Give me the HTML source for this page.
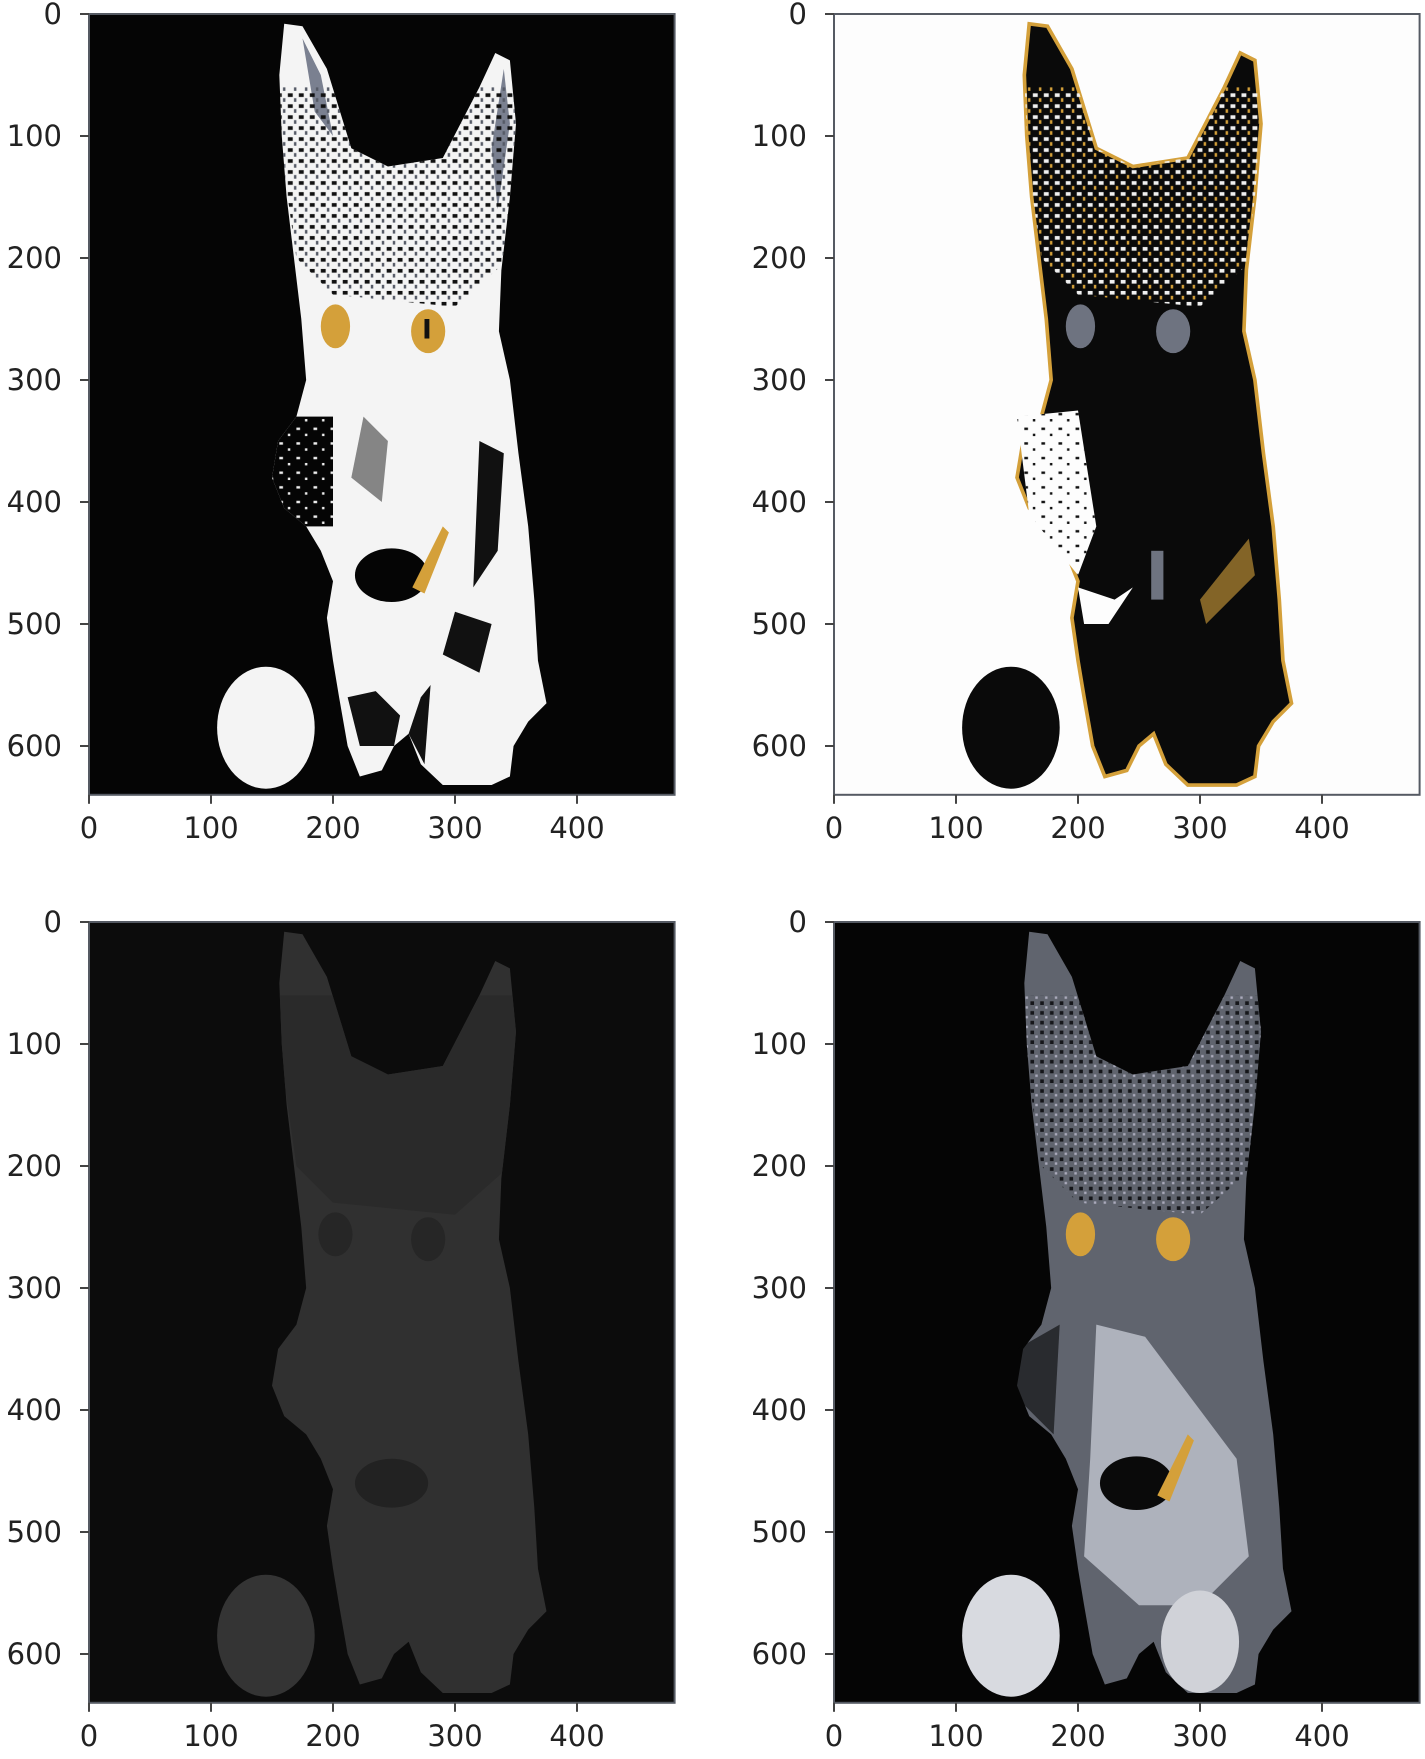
<!DOCTYPE html>
<html><head><meta charset="utf-8"><style>
body{margin:0;background:#fff;width:1425px;height:1759px;overflow:hidden}
svg{display:block}
text{font-family:"DejaVu Sans","Liberation Sans",sans-serif;font-size:29px;fill:#222}
</style></head><body>
<svg id="fig" width="1425" height="1759" viewBox="0 0 1425 1759">
<defs>
<path id="catBody" d="M160,8 L175,10 L195,45 L215,110 L245,125 L290,118 L320,60 L333,32 L345,38 L350,90 L345,150 L338,210 L336,260 L345,300 L352,360 L360,420 L365,480 L368,530 L375,565 L360,580 L348,600 L345,625 L330,632 L290,632 L272,615 L262,590 L250,600 L240,620 L222,625 L212,600 L205,560 L200,530 L195,495 L200,465 L190,440 L178,420 L160,405 L150,380 L155,350 L170,330 L178,300 L174,250 L168,200 L162,150 L158,100 L156,50 Z"/>
<clipPath id="catClip"><use href="#catBody"/></clipPath>
<path id="headZone" d="M150,60 L360,60 L345,200 L300,240 L250,235 L200,230 L170,200 Z"/>
<ellipse id="pawL" cx="145" cy="585" rx="40" ry="50"/>
<ellipse id="pawR" cx="300" cy="590" rx="32" ry="42"/>
<pattern id="dotsDark" width="9" height="9" patternUnits="userSpaceOnUse">
<rect x="1" y="2" width="4" height="3" fill="#111"/><rect x="6" y="6" width="2" height="3" fill="#555a66"/>
</pattern>
<pattern id="dotsLight" width="9" height="9" patternUnits="userSpaceOnUse">
<rect x="1" y="2" width="4" height="3" fill="#f0f0f0"/><rect x="6" y="6" width="2" height="3" fill="#d4a03a"/>
</pattern>
<pattern id="dotsGrey" width="8" height="8" patternUnits="userSpaceOnUse">
<rect x="1" y="1" width="3" height="3" fill="#15161a"/><rect x="5" y="5" width="2" height="2" fill="#aab"/>
</pattern>
<pattern id="dotsSparse" width="14" height="12" patternUnits="userSpaceOnUse">
<rect x="2" y="3" width="3" height="2" fill="#eee"/><rect x="9" y="8" width="2" height="2" fill="#eee"/>
</pattern>
<pattern id="dotsSparseDark" width="14" height="12" patternUnits="userSpaceOnUse">
<rect x="2" y="3" width="3" height="2" fill="#111"/><rect x="9" y="8" width="2" height="2" fill="#111"/>
</pattern>
</defs>

<!-- Panel 1 -->
<g transform="translate(89,14) scale(1.22)">
<rect x="0" y="0" width="480" height="640" fill="#050505"/>
<use href="#catBody" fill="#f4f4f4"/>
<use href="#pawL" fill="#f4f4f4"/>
<g clip-path="url(#catClip)">
<path d="M175,20 L190,50 L200,100 L185,80 Z M340,45 L345,90 L335,160 L330,110 Z" fill="#7a8090"/>
<use href="#headZone" fill="url(#dotsDark)"/>
<rect x="140" y="330" width="60" height="90" fill="#050505"/>
<rect x="140" y="330" width="60" height="90" fill="url(#dotsSparse)"/>
</g>
<path d="M225,330 L245,350 L240,400 L215,380 Z" fill="#555" opacity="0.7"/>
<path d="M320,350 L340,360 L335,440 L315,470 Z M300,490 L330,500 L320,540 L290,525 Z" fill="#111"/>
<path d="M212,560 L235,555 L255,575 L250,600 L222,600 Z" fill="#111"/>
<path d="M262,590 L272,560 L280,550 L275,615 Z" fill="#111"/>
<ellipse cx="248" cy="460" rx="30" ry="22" fill="#050505"/>
<path d="M265,470 L290,420 L295,425 L275,475 Z" fill="#d4a03a"/>
<ellipse cx="202" cy="256" rx="12" ry="18" fill="#d4a03a"/>
<ellipse cx="278" cy="260" rx="14" ry="18" fill="#d4a03a"/>
<rect x="275" y="250" width="4" height="16" fill="#111"/>
</g>

<!-- Panel 2 -->
<g transform="translate(834,14) scale(1.22)">
<rect x="0" y="0" width="480" height="640" fill="#fdfdfd"/>
<use href="#catBody" fill="#0a0a0a" stroke="#d4a03a" stroke-width="3"/>
<use href="#pawL" fill="#0a0a0a"/>
<g clip-path="url(#catClip)">
<use href="#headZone" fill="url(#dotsLight)"/>
</g>
<path d="M150,330 L200,325 L215,420 L200,460 L160,410 Z" fill="#fdfdfd"/>
<path d="M150,330 L200,325 L215,420 L200,460 L160,410 Z" fill="url(#dotsSparseDark)"/>
<path d="M200,470 L230,480 L245,470 L225,500 L205,500 Z" fill="#fdfdfd"/>
<path d="M300,480 L340,430 L345,460 L305,500 Z" fill="#d4a03a" opacity="0.6"/>
<ellipse cx="202" cy="256" rx="12" ry="18" fill="#6e7380"/>
<ellipse cx="278" cy="260" rx="14" ry="18" fill="#6e7380"/>
<rect x="260" y="440" width="10" height="40" fill="#6e7380"/>
</g>

<!-- Panel 3 -->
<g transform="translate(89,922) scale(1.22)">
<rect x="0" y="0" width="480" height="640" fill="#0c0c0c"/>
<use href="#catBody" fill="#303030"/>
<use href="#pawL" fill="#343434"/>
<g clip-path="url(#catClip)"><use href="#headZone" fill="#2a2a2a"/></g>
<ellipse cx="248" cy="460" rx="30" ry="20" fill="#222"/>
<ellipse cx="202" cy="256" rx="14" ry="18" fill="#262626"/>
<ellipse cx="278" cy="260" rx="14" ry="18" fill="#262626"/>
</g>

<!-- Panel 4 -->
<g transform="translate(834,922) scale(1.22)">
<rect x="0" y="0" width="480" height="640" fill="#050505"/>
<use href="#catBody" fill="#60646e"/>
<g clip-path="url(#catClip)"><use href="#headZone" fill="url(#dotsGrey)"/></g>
<path d="M215,330 L255,340 L300,400 L330,440 L340,520 L300,560 L250,560 L205,520 L210,440 Z" fill="#aeb2bc"/>
<use href="#pawL" fill="#d8dae0"/><use href="#pawR" fill="#d0d2d8"/>
<ellipse cx="248" cy="460" rx="30" ry="22" fill="#0a0a0a"/>
<path d="M265,470 L290,420 L295,425 L275,475 Z" fill="#d4a03a"/>
<ellipse cx="202" cy="256" rx="12" ry="18" fill="#d4a03a"/>
<ellipse cx="278" cy="260" rx="14" ry="18" fill="#d4a03a"/>
<path d="M150,350 L185,330 L180,420 L150,390 Z" fill="#050505" opacity="0.6"/>
</g>
<g id="axes"></g>
</svg>
<script>
const xTicks=[0,100,200,300,400];
const yTicks=[0,100,200,300,400,500,600];
const imgW=480, imgH=640;
const panels=[{x:89,y:14},{x:834,y:14},{x:89,y:922},{x:834,y:922}];
const k=1.22;
const NS="http://www.w3.org/2000/svg";
const root=document.getElementById('axes');
function mk(tag,attrs,parent){const e=document.createElementNS(NS,tag);for(const a in attrs)e.setAttribute(a,attrs[a]);parent.appendChild(e);return e;}
panels.forEach((p,i)=>{
  const g=mk('g',{},root);
  
  
  const sx=v=>p.x+v*k, sy=v=>p.y+v*k;
  const fr=mk('rect',{x:p.x,y:p.y,width:imgW*k,height:imgH*k,fill:'none',stroke:'#555a63','stroke-width':2},g);
  
  
  xTicks.forEach(v=>{
    const l=mk('line',{x1:sx(v),x2:sx(v),y1:sy(imgH),y2:sy(imgH)+9,stroke:'#444','stroke-width':2},g);
    
    
    const t=mk('text',{x:sx(v),y:sy(imgH)+43,'text-anchor':'middle'},g);
    t.textContent=v;
    
    
  });
  yTicks.forEach(v=>{
    const l=mk('line',{x1:p.x-9,x2:p.x,y1:sy(v),y2:sy(v),stroke:'#444','stroke-width':2},g);
    
    
    const t=mk('text',{x:p.x-27,y:sy(v)+10,'text-anchor':'end'},g);
    t.textContent=v;
    
    
  });
});
</script>
</body></html>
